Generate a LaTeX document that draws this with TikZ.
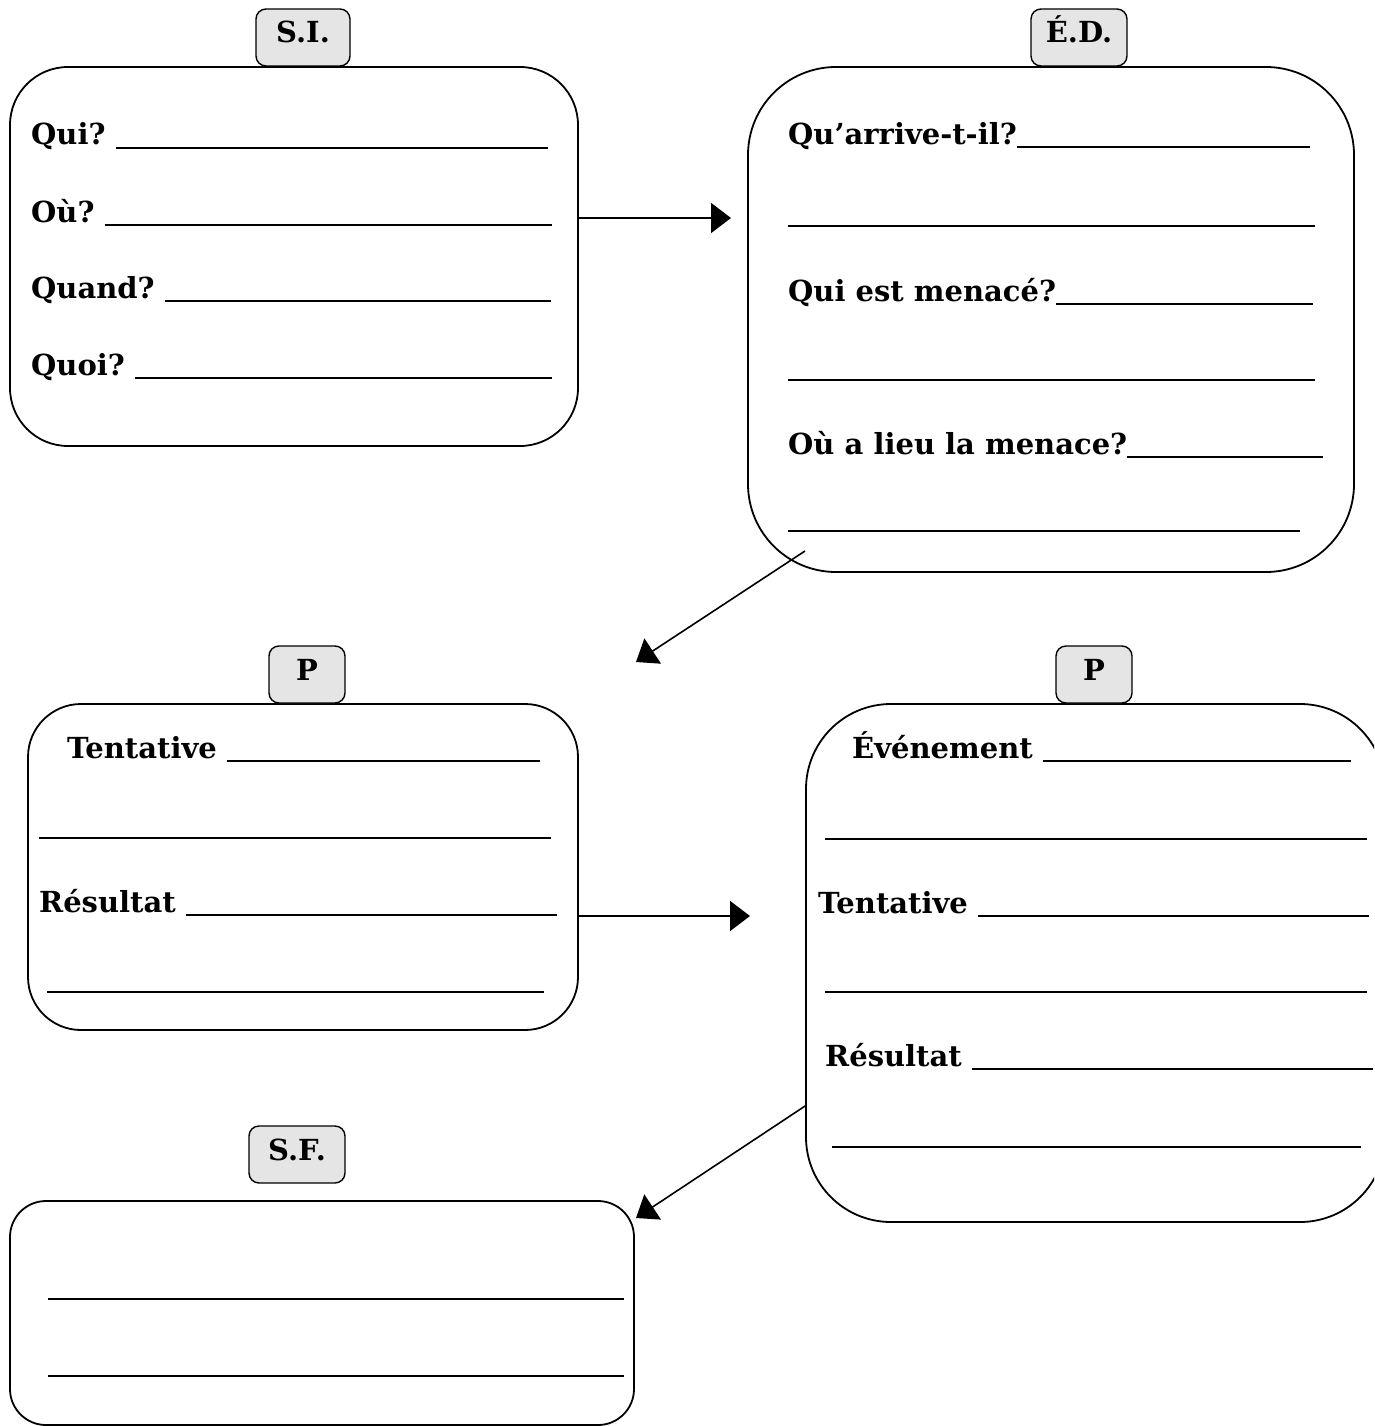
\documentclass[tikz,border=0pt]{standalone}
\usepackage{fontspec}
\setmainfont{DejaVu Serif}
\usetikzlibrary{arrows.meta}
\definecolor{tabgray}{gray}{0.9}
\tikzset{
  box/.style={draw, line width=1.8pt, rounded corners=#1, inner sep=0pt},
  tab/.style={draw, line width=1.4pt, fill=tabgray, rounded corners=10pt,
    minimum height=57pt, inner sep=0pt, text height=22pt, text depth=11pt,
    font=\bfseries\fontsize{29}{35}\selectfont},
  lbl/.style={anchor=base west, inner sep=0pt, font=\bfseries\fontsize{29}{35}\selectfont},
  blank/.style={line width=2pt},
  arr/.style={line width=1.6pt, -{Triangle[length=20pt,width=30pt]}},
}
\begin{document}
\begin{tikzpicture}[x=1pt,y=-1pt]
  \useasboundingbox (0,0) rectangle (1374,1426);
  \clip (0,0) rectangle (1374,1426);
  % boxes
  \node[box=58pt, minimum width=568pt, minimum height=379pt] (si) at (294,256.5) {};
  \node[box=88pt, minimum width=606pt, minimum height=505pt] (ed) at (1051,319.5) {};
  \node[box=53pt, minimum width=550pt, minimum height=326pt] (pa) at (303,867) {};
  \node[box=85pt, minimum width=579pt, minimum height=518pt] (pb) at (1095.5,963) {};
  \node[box=36pt, minimum width=624pt, minimum height=224pt] (sf) at (322,1313) {};
  % tabs
  \node[tab, minimum width=94pt] (tsi) at (303,37.5) {S.I.};
  \node[tab, minimum width=96pt] (ted) at (1079,37.5) {É.D.};
  \node[tab, minimum width=76pt] (tpa) at (307,674.5) {P};
  \node[tab, minimum width=76pt] (tpb) at (1094,674.5) {P};
  \node[tab, minimum width=96pt] (tsf) at (297,1154.5) {S.F.};
  % S.I.
  \node[lbl] (qui) at (31,145) {Qui?};
  \draw[blank] ([shift={(10,3)}]qui.base east) -- (548,148);
  \node[lbl] (ou) at (31,222) {Où?};
  \draw[blank] ([shift={(10,3)}]ou.base east) -- (552,225);
  \node[lbl] (quand) at (31,298) {Quand?};
  \draw[blank] ([shift={(10,3)}]quand.base east) -- (551,301);
  \node[lbl] (quoi) at (31,375) {Quoi?};
  \draw[blank] ([shift={(10,3)}]quoi.base east) -- (552,378);
  % E.D.
  \node[lbl] (arrive) at (788,144) {Qu’arrive-t-il?};
  \draw[blank] ([shift={(0,3)}]arrive.base east) -- (1310,147);
  \draw[blank] (788,226) -- (1315,226);
  \node[lbl] (menace) at (788,301) {Qui est menacé?};
  \draw[blank] ([shift={(0,3)}]menace.base east) -- (1313,304);
  \draw[blank] (788,380) -- (1315,380);
  \node[lbl] (lieu) at (788,454) {Où a lieu la menace?};
  \draw[blank] ([shift={(0,3)}]lieu.base east) -- (1323,457);
  \draw[blank] (788,531) -- (1300,531);
  % P (1)
  \node[lbl] (tenta) at (67,758) {Tentative};
  \draw[blank] ([shift={(10,3)}]tenta.base east) -- (540,761);
  \draw[blank] (39,838) -- (551,838);
  \node[lbl] (resa) at (39,912) {Résultat};
  \draw[blank] ([shift={(10,3)}]resa.base east) -- (557,915);
  \draw[blank] (47,992) -- (544,992);
  % P (2)
  \node[lbl] (even) at (852,758) {Événement};
  \draw[blank] ([shift={(10,3)}]even.base east) -- (1351,761);
  \draw[blank] (825,839) -- (1367,839);
  \node[lbl] (tentb) at (818,913) {Tentative};
  \draw[blank] ([shift={(10,3)}]tentb.base east) -- (1369,916);
  \draw[blank] (825,992) -- (1367,992);
  \node[lbl] (resb) at (825,1066) {Résultat};
  \draw[blank] ([shift={(10,3)}]resb.base east) -- (1373,1069);
  \draw[blank] (832,1147) -- (1361,1147);
  % S.F.
  \draw[blank] (48,1299) -- (624,1299);
  \draw[blank] (48,1376) -- (624,1376);
  % arrows
  \coordinate (t1) at (731,218);
  \coordinate (s2) at (805,551);
  \coordinate (t2) at (636,662);
  \coordinate (t3) at (750,916);
  \coordinate (s4) at (806,1106);
  \coordinate (t4) at (636,1218);
  \draw[arr] (si.east |- t1) -- (t1);
  \draw[arr] (s2) -- (t2);
  \draw[arr] (pa.east |- t3) -- (t3);
  \draw[arr] (pb.west |- s4) -- (t4);
\end{tikzpicture}
\end{document}
